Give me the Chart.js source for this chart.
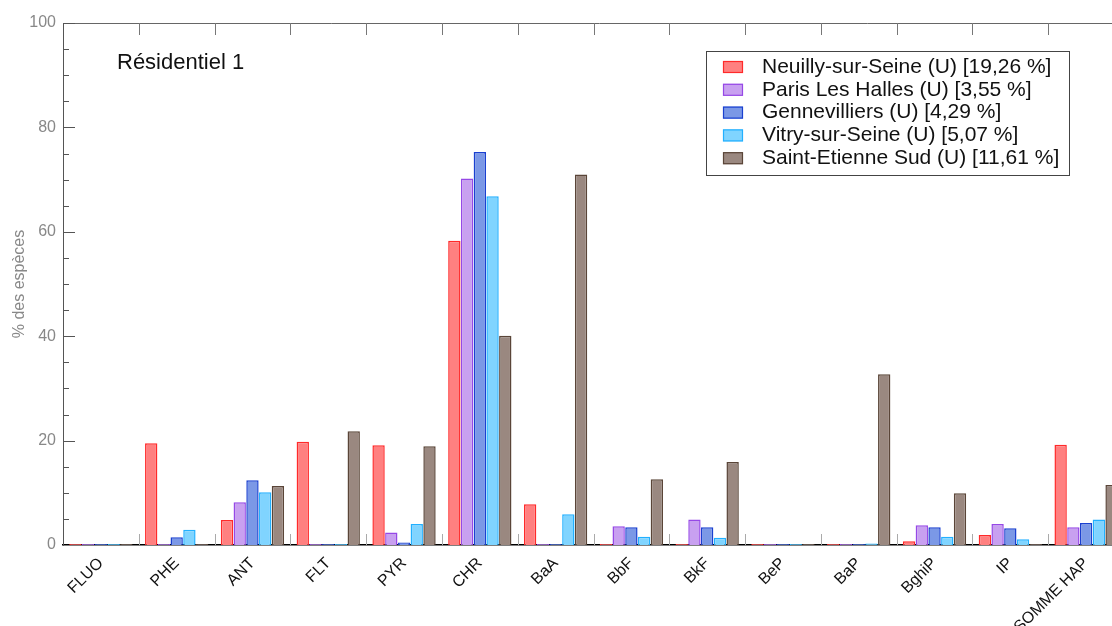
<!DOCTYPE html>
<html>
<head>
<meta charset="utf-8">
<script src="https://cdn.jsdelivr.net/npm/chart.js@4.4.1/dist/chart.umd.min.js"></script>
<style>
  html, body { margin: 0; padding: 0; background: #fff; overflow: hidden; }
  #wrap { position: absolute; left: 0; top: 0; width: 1136px; height: 626px; }
</style>
</head>
<body>
<div id="wrap"><canvas id="chart"></canvas></div>
<script>
// categories (HAP) et valeurs (% des especes)
const categories = ['FLUO', 'PHE', 'ANT', 'FLT', 'PYR', 'CHR', 'BaA', 'BbF', 'BkF', 'BeP', 'BaP', 'BghiP', 'IP', 'SOMME HAP'];
const neuillyValues    = [0.2, 19.5, 4.8, 19.8, 19.1, 58.3, 7.8, 0.2, 0.2, 0.2, 0.2, 0.7, 1.9, 19.2];
const parisValues      = [0.2, 0.2, 8.2, 0.2, 2.4, 70.2, 0.2, 3.6, 4.9, 0.2, 0.2, 3.8, 4.0, 3.4];
const gennevilliersValues = [0.2, 1.5, 12.4, 0.2, 0.5, 75.3, 0.2, 3.4, 3.4, 0.2, 0.2, 3.4, 3.2, 4.2];
const vitryValues      = [0.2, 2.9, 10.1, 0.2, 4.0, 66.8, 5.9, 1.6, 1.4, 0.2, 0.3, 1.6, 1.1, 4.9];
const stEtienneValues  = [0.2, 0.2, 11.3, 21.8, 18.9, 40.1, 71.0, 12.6, 15.9, 0.2, 32.7, 9.9, 0.2, 11.5];

const seriesLabels = [
  'Neuilly-sur-Seine (U) [19,26 %]',
  'Paris Les Halles (U) [3,55 %]',
  'Gennevilliers (U) [4,29 %]',
  'Vitry-sur-Seine (U) [5,07 %]',
  'Saint-Etienne Sud (U) [11,61 %]'
];
const yTicks = [0, 20, 40, 60, 80, 100];
const chartTitle = 'Résidentiel 1';
const yTitle = '% des espèces';

const fills   = ['#ff8080', '#c8a0f0', '#7b98e6', '#80d4ff', '#9a8880'];
const borders = ['#ff2a2a', '#9648e6', '#1a40d0', '#22b0ff', '#5a4538'];
const FONT = '"Liberation Sans", Arial, sans-serif';

// ticks vers l'interieur, cadre, titre et legende encadree
const framePlugin = {
  id: 'frame',
  afterDraw(chart) {
    const ctx = chart.ctx;
    const a = chart.chartArea;
    const x = chart.scales.x;
    const y = chart.scales.y;
    ctx.save();

    // bord superieur
    ctx.strokeStyle = '#666';
    ctx.lineWidth = 1;
    ctx.beginPath();
    ctx.moveTo(a.left, a.top + 0.5);
    ctx.lineTo(chart.width, a.top + 0.5);
    ctx.stroke();

    // separateurs de categories
    for (let i = 1; i < categories.length; i++) {
      const px = Math.round((x.getPixelForValue(i - 1) + x.getPixelForValue(i)) / 2) + 0.5;
      ctx.strokeStyle = '#aaa';
      ctx.beginPath();
      ctx.moveTo(px, a.bottom);
      ctx.lineTo(px, a.bottom - 11);
      ctx.stroke();
      ctx.strokeStyle = '#777';
      ctx.beginPath();
      ctx.moveTo(px, a.top);
      ctx.lineTo(px, a.top + 12);
      ctx.stroke();
    }

    // graduations de l'axe y (majeures tous les 20, mineures tous les 5)
    ctx.strokeStyle = '#555';
    for (let v = 5; v <= 100; v += 5) {
      const py = Math.round(y.getPixelForValue(v)) + 0.5;
      const len = (v % 20 === 0) ? 12 : 6;
      ctx.beginPath();
      ctx.moveTo(a.left, py);
      ctx.lineTo(a.left + len, py);
      ctx.stroke();
    }

    // titre
    ctx.fillStyle = '#111';
    ctx.font = '22px ' + FONT;
    ctx.textAlign = 'left';
    ctx.textBaseline = 'middle';
    ctx.fillText(chartTitle, 117, 63);

    // legende
    const lx = 706, ly = 51, lw = 363, lh = 124;
    ctx.fillStyle = '#fff';
    ctx.fillRect(lx, ly, lw, lh);
    ctx.strokeStyle = '#444';
    ctx.strokeRect(lx + 0.5, ly + 0.5, lw, lh);
    ctx.font = '21px ' + FONT;
    chart.data.datasets.forEach((ds, i) => {
      const cy = 67 + i * 22.8;
      ctx.fillStyle = ds.backgroundColor;
      ctx.fillRect(723, cy - 6, 20, 12);
      ctx.strokeStyle = ds.borderColor;
      ctx.lineWidth = 1.2;
      ctx.strokeRect(723.5, cy - 5.5, 19, 11);
      ctx.fillStyle = '#111';
      ctx.fillText(ds.label, 762, cy);
    });
    ctx.restore();
  }
};

const allValues = [neuillyValues, parisValues, gennevilliersValues, vitryValues, stEtienneValues];

new Chart(document.getElementById('chart').getContext('2d'), {
  type: 'bar',
  data: {
    labels: categories,
    datasets: allValues.map((vals, i) => ({
      label: seriesLabels[i],
      data: vals,
      backgroundColor: fills[i],
      borderColor: borders[i],
      borderWidth: 1.5,
      categoryPercentage: 0.84,
      barPercentage: 0.97
    }))
  },
  options: {
    responsive: true,
    maintainAspectRatio: false,
    animation: false,
    layout: { padding: { top: 23, right: 12, left: 0, bottom: 0 } },
    plugins: {
      legend: { display: false },
      tooltip: { enabled: false }
    },
    scales: {
      x: {
        grid: { display: false },
        border: { color: '#000', width: 1.5 },
        ticks: {
          color: '#111',
          font: { family: FONT, size: 16 },
          maxRotation: 45,
          minRotation: 45,
          autoSkip: false,
          padding: 1
        },
        afterFit(scale) { scale.height = 81; }
      },
      y: {
        min: 0,
        max: 100,
        afterBuildTicks(scale) { scale.ticks = yTicks.map(v => ({ value: v })); },
        grid: { display: false, drawTicks: false },
        border: { color: '#555', width: 1 },
        ticks: {
          color: '#888',
          font: { family: FONT, size: 16 },
          padding: 7
        },
        title: {
          display: true,
          text: yTitle,
          color: '#888',
          font: { family: FONT, size: 16 },
          padding: { top: 10, bottom: 0 }
        },
        afterFit(scale) { scale.width = 63; }
      }
    }
  },
  plugins: [framePlugin]
});
</script>
</body>
</html>
